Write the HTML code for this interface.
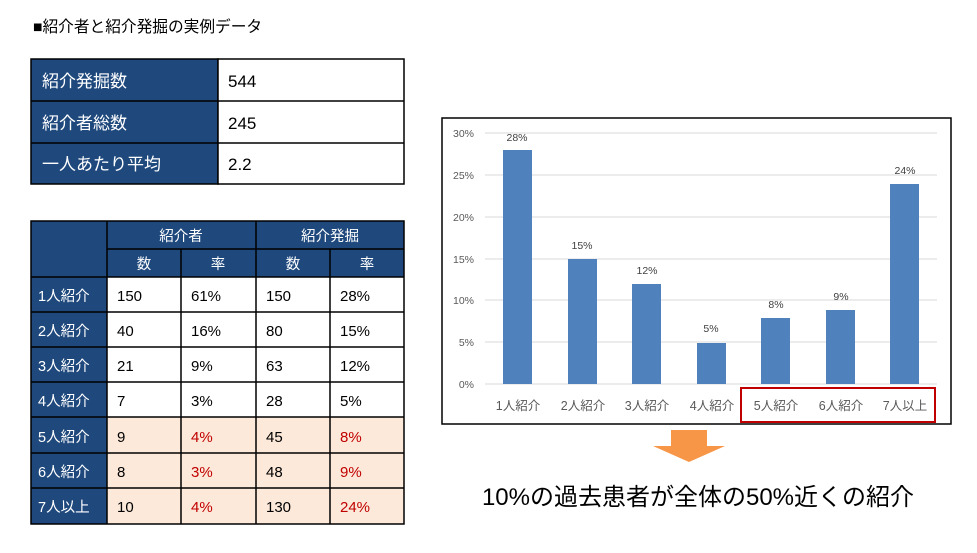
<!DOCTYPE html><html><head><meta charset="utf-8"><style>
body{margin:0;background:#fff;width:977px;height:553px;overflow:hidden}
svg{display:block;font-family:"Liberation Sans","Noto Sans CJK JP",sans-serif}
</style></head><body>
<svg width="977" height="553" viewBox="0 0 977 553">
<text x="33" y="32" font-size="15.7" fill="#000">■紹介者と紹介発掘の実例データ</text>
<g stroke="#000" stroke-width="1.5">
<rect x="31" y="59" width="187" height="125" fill="#1f497d"/>
<rect x="218" y="59" width="186" height="125" fill="#fff"/>
<line x1="31" y1="101" x2="404" y2="101"/><line x1="31" y1="143" x2="404" y2="143"/>
</g>
<g font-size="17" fill="#fff"><text x="42" y="87">紹介発掘数</text><text x="42" y="129">紹介者総数</text><text x="42" y="170">一人あたり平均</text></g>
<g font-size="17" fill="#000"><text x="228" y="87">544</text><text x="228" y="129">245</text><text x="228" y="170">2.2</text></g>
<rect x="31" y="221" width="373" height="56" fill="#1f497d"/>
<rect x="31" y="277" width="76" height="247" fill="#1f497d"/>
<rect x="107" y="277" width="297" height="140" fill="#fff"/>
<rect x="107" y="417" width="297" height="107" fill="#fde9d9"/>
<g stroke="#000" stroke-width="1.5" fill="none">
<rect x="31" y="221" width="373" height="303"/>
<line x1="107" y1="221" x2="107" y2="524"/>
<line x1="256" y1="221" x2="256" y2="524"/>
<line x1="181" y1="249" x2="181" y2="524"/>
<line x1="330" y1="249" x2="330" y2="524"/>
<line x1="107" y1="249" x2="404" y2="249"/>
<line x1="31" y1="277" x2="404" y2="277"/>
<line x1="31" y1="312" x2="404" y2="312"/>
<line x1="31" y1="347" x2="404" y2="347"/>
<line x1="31" y1="382" x2="404" y2="382"/>
<line x1="31" y1="417" x2="404" y2="417"/>
<line x1="31" y1="453" x2="404" y2="453"/>
<line x1="31" y1="488" x2="404" y2="488"/>
</g>
<g font-size="14.5" fill="#fff" text-anchor="middle">
<text x="181" y="241">紹介者</text><text x="330" y="241">紹介発掘</text>
<text x="144" y="269">数</text><text x="218" y="269">率</text><text x="293" y="269">数</text><text x="367" y="269">率</text>
</g>
<g font-size="14.5" fill="#fff">
<text x="38" y="301">1人紹介</text><text x="38" y="336">2人紹介</text><text x="38" y="371">3人紹介</text><text x="38" y="406">4人紹介</text><text x="38" y="442">5人紹介</text><text x="38" y="477">6人紹介</text><text x="38" y="512">7人以上</text>
</g>
<g font-size="15" fill="#000">
<text x="117" y="301">150</text><text x="191" y="301">61%</text><text x="266" y="301">150</text><text x="340" y="301">28%</text>
<text x="117" y="336">40</text><text x="191" y="336">16%</text><text x="266" y="336">80</text><text x="340" y="336">15%</text>
<text x="117" y="371">21</text><text x="191" y="371">9%</text><text x="266" y="371">63</text><text x="340" y="371">12%</text>
<text x="117" y="406">7</text><text x="191" y="406">3%</text><text x="266" y="406">28</text><text x="340" y="406">5%</text>
<text x="117" y="442">9</text><text x="266" y="442">45</text>
<text x="117" y="477">8</text><text x="266" y="477">48</text>
<text x="117" y="512">10</text><text x="266" y="512">130</text>
</g>
<g font-size="15" fill="#c00000">
<text x="191" y="442">4%</text><text x="340" y="442">8%</text>
<text x="191" y="477">3%</text><text x="340" y="477">9%</text>
<text x="191" y="512">4%</text><text x="340" y="512">24%</text>
</g>
<rect x="442" y="118" width="509" height="306" fill="#fff" stroke="#000" stroke-width="1.5"/>
<g stroke="#d9d9d9" stroke-width="1">
<line x1="485" y1="133" x2="937" y2="133"/><line x1="485" y1="175" x2="937" y2="175"/>
<line x1="485" y1="217" x2="937" y2="217"/><line x1="485" y1="259" x2="937" y2="259"/>
<line x1="485" y1="300" x2="937" y2="300"/><line x1="485" y1="342" x2="937" y2="342"/>
<line x1="485" y1="384" x2="937" y2="384"/>
</g>
<g font-size="10.5" fill="#595959" text-anchor="end">
<text x="474" y="137">30%</text><text x="474" y="179">25%</text><text x="474" y="221">20%</text><text x="474" y="263">15%</text><text x="474" y="304">10%</text><text x="474" y="346">5%</text><text x="474" y="388">0%</text>
</g>
<g fill="#4f81bd">
<rect x="503" y="150" width="29" height="234"/>
<rect x="568" y="259" width="29" height="125"/>
<rect x="632" y="284" width="29" height="100"/>
<rect x="697" y="343" width="29" height="41"/>
<rect x="761" y="318" width="29" height="66"/>
<rect x="826" y="310" width="29" height="74"/>
<rect x="890" y="184" width="29" height="200"/>
</g>
<g font-size="10.5" fill="#404040" text-anchor="middle">
<text x="517" y="141">28%</text><text x="582" y="249">15%</text><text x="647" y="274">12%</text><text x="711" y="332">5%</text><text x="776" y="308">8%</text><text x="841" y="300">9%</text><text x="905" y="174">24%</text>
</g>
<g font-size="12.5" fill="#595959" text-anchor="middle">
<text x="518" y="410">1人紹介</text><text x="583" y="410">2人紹介</text><text x="647" y="410">3人紹介</text><text x="712" y="410">4人紹介</text><text x="776" y="410">5人紹介</text><text x="841" y="410">6人紹介</text><text x="905" y="410">7人以上</text>
</g>
<rect x="741" y="388" width="194" height="34" fill="none" stroke="#c00000" stroke-width="2"/>
<polygon points="671,430 707,430 707,446 725,446 689,462 653,446 671,446" fill="#f79646"/>
<text x="698" y="505" font-size="24" fill="#000" text-anchor="middle">10%の過去患者が全体の50%近くの紹介</text>
</svg>
</body></html>
